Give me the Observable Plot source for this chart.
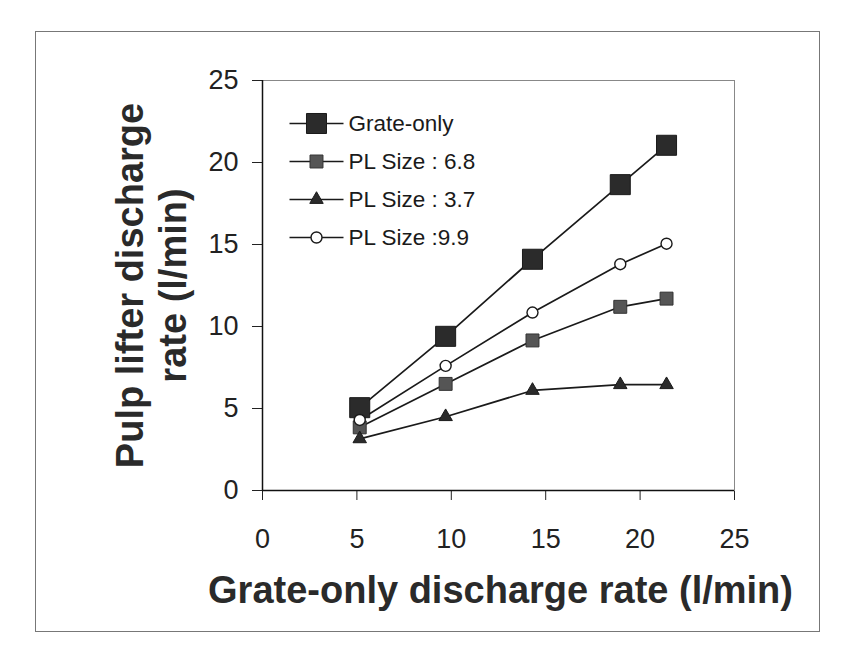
<!DOCTYPE html>
<html>
<head>
<meta charset="utf-8">
<script src="https://cdn.jsdelivr.net/npm/d3@7"></script>
<script src="https://cdn.jsdelivr.net/npm/@observablehq/plot@0.6"></script>
<style>
  html, body { margin: 0; padding: 0; background: #fff; }
  #wrap { position: relative; width: 849px; height: 662px; }
  #border { position: absolute; left: 35px; top: 31px; width: 783px; height: 599px;
            border: 1.5px solid #777; pointer-events: none; }
  #chart { position: absolute; left: 0; top: 0; }
</style>
</head>
<body>
<div id="wrap">
  <div id="border"></div>
  <div id="chart"></div>
</div>
<script>
// Grate-only discharge rate (l/min), shared by all series
const grateRate = [5.15, 9.7, 14.3, 18.95, 21.4];

// Pulp lifter discharge rate (l/min) per configuration
const grateOnly = [5.05, 9.4, 14.1, 18.65, 21.05];
const plSize68  = [3.85, 6.5, 9.15, 11.2, 11.7];
const plSize37  = [3.15, 4.5, 6.1, 6.45, 6.45];
const plSize99  = [4.3, 7.6, 10.85, 13.8, 15.05];

const seriesNames = ["Grate-only", "PL Size : 6.8", "PL Size : 3.7", "PL Size :9.9"];
const xTicks = [0, 5, 10, 15, 20, 25];
const yTicks = [0, 5, 10, 15, 20, 25];

const xTitle = "Grate-only discharge rate (l/min)";
const yTitle = "Pulp lifter discharge\nrate (l/min)";

// marker look for each series
const markerStyle = [
  {symbol: "square",   r: 11.3, fill: "#2b2b2b", stroke: "#1a1a1a", strokeWidth: 1},
  {symbol: "square",   r: 7.3,  fill: "#555",    stroke: "#333",    strokeWidth: 1},
  {symbol: "triangle", r: 5.0,  fill: "#2b2b2b", stroke: "#1a1a1a", strokeWidth: 1},
  {symbol: "circle",   r: 5.5,  fill: "#fff",    stroke: "#1a1a1a", strokeWidth: 1.4}
];

const values = [grateOnly, plSize68, plSize37, plSize99];
const rows = values.flatMap((vals, s) =>
  vals.map((v, i) => ({series: seriesNames[s], s, x: grateRate[i], y: v})));

const font = '"Liberation Sans", Arial, Helvetica, sans-serif';

// horizontal dash used as the line sample in the legend
const dash = {draw(ctx) { ctx.moveTo(-27, 0); ctx.lineTo(27, 0); }};

const legendMarks = seriesNames.flatMap((name, s) => {
  const dy = 43 + s * 38;
  const m = markerStyle[s];
  return [
    Plot.dot([name], {frameAnchor: "top-left", dx: 54, dy, symbol: dash, r: 5,
      fill: "none", stroke: "#1a1a1a", strokeWidth: 1.7}),
    Plot.dot([name], {frameAnchor: "top-left", dx: 54, dy, symbol: m.symbol, r: m.r,
      fill: m.fill, stroke: m.stroke, strokeWidth: m.strokeWidth}),
    Plot.text([name], {frameAnchor: "top-left", dx: 86, dy, text: d => d,
      textAnchor: "start", lineAnchor: "middle", fontSize: 22.5, fill: "#1a1a1a"})
  ];
});

const chart = Plot.plot({
  width: 849,
  height: 662,
  marginLeft: 262,
  marginRight: 115,
  marginTop: 80,
  marginBottom: 172,
  style: {fontFamily: font, fontSize: "27px", color: "#222", background: "transparent"},
  x: {domain: [0, 25], ticks: xTicks, tickSize: 10, tickPadding: 28, label: null},
  y: {domain: [0, 25], ticks: yTicks, tickSize: 10, tickPadding: 14, label: null},
  marks: [
    Plot.frame({stroke: "#888", strokeWidth: 1}),
    Plot.ruleX([0], {stroke: "#111", strokeWidth: 1.5}),
    Plot.ruleY([0], {stroke: "#111", strokeWidth: 1.5}),
    Plot.line(rows, {x: "x", y: "y", z: "series", stroke: "#1a1a1a", strokeWidth: 1.7}),
    ...markerStyle.map((m, s) =>
      Plot.dot(rows.filter(d => d.s === s), {x: "x", y: "y", symbol: m.symbol, r: m.r,
        fill: m.fill, stroke: m.stroke, strokeWidth: m.strokeWidth})),
    ...legendMarks,
    Plot.text([xTitle], {frameAnchor: "bottom", dx: 2, dy: 112, text: d => d,
      textAnchor: "middle", lineAnchor: "bottom", fontSize: 38, fontWeight: "bold", fill: "#2a2a2a"}),
    Plot.text([yTitle], {frameAnchor: "left", dx: -112, dy: 0, text: d => d, rotate: -90,
      textAnchor: "middle", lineAnchor: "middle", lineHeight: 1.13, fontSize: 38,
      fontWeight: "bold", fill: "#2a2a2a"})
  ]
});

document.getElementById("chart").appendChild(chart);
</script>
</body>
</html>
